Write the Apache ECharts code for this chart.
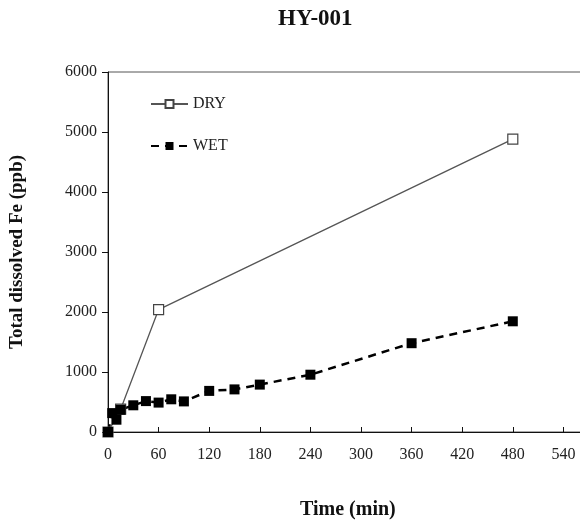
<!DOCTYPE html>
<html>
<head>
<meta charset="utf-8">
<script src="https://cdn.jsdelivr.net/npm/echarts@6/dist/echarts.min.js"></script>
<style>
  html, body { margin: 0; padding: 0; background: #fff; }
  #chart { width: 580px; height: 523px; }
</style>
</head>
<body>
<div id="chart"></div>
<script>
// 数据：时间(min) 与 总溶解铁(ppb)
const dryTime = [0, 15, 60, 480];
const dryFe = [0, 380, 2040, 4880];
const wetTime = [0, 5, 10, 15, 30, 45, 60, 75, 90, 120, 150, 180, 240, 360, 480];
const wetFe = [0, 315, 205, 370, 445, 515, 490, 545, 510, 685, 710, 790, 955, 1480, 1845];

const serif = "Liberation Serif";

const chart = echarts.init(document.getElementById("chart"));

const option = {
  animation: false,
  backgroundColor: "#fff",
  title: [
    {
      text: "HY-001",
      left: 273,
      top: 3,
      textStyle: { fontFamily: serif, fontWeight: "bold", fontSize: 23, color: "#111" }
    },
    {
      text: "Time (min)",
      left: 295,
      top: 495,
      textStyle: { fontFamily: serif, fontWeight: "bold", fontSize: 20, color: "#111" }
    }
  ],
  legend: {
    orient: "vertical",
    left: 145,
    top: 91,
    itemWidth: 37,
    itemHeight: 10,
    itemGap: 26,
    textStyle: { fontFamily: serif, fontSize: 16, color: "#222" },
    data: ["DRY", "WET"]
  },
  grid: {
    left: 108,
    top: 72,
    width: 506,
    height: 360,
    outerBoundsMode: "none",
    containLabel: false,
    show: true,
    borderColor: "#555",
    borderWidth: 1
  },
  xAxis: {
    type: "value",
    min: 0,
    max: 600,
    interval: 60,
    axisLine: { lineStyle: { color: "#111", width: 1 } },
    axisTick: { inside: true, length: 5, lineStyle: { color: "#111" } },
    axisLabel: { fontFamily: serif, fontSize: 16, color: "#222", margin: 15, formatter: (v) => String(v) },
    splitLine: { show: false }
  },
  yAxis: {
    type: "value",
    min: 0,
    max: 6000,
    interval: 1000,
    name: "Total dissolved Fe (ppb)",
    nameLocation: "middle",
    nameGap: 81,
    nameTextStyle: { fontFamily: serif, fontWeight: "bold", fontSize: 19, color: "#111" },
    axisLine: { show: true, lineStyle: { color: "#111", width: 1 } },
    axisTick: { show: true, length: 6, lineStyle: { color: "#111" } },
    axisLabel: { fontFamily: serif, fontSize: 16, color: "#222", margin: 11, formatter: (v) => String(v) },
    splitLine: { show: false }
  },
  series: [
    {
      name: "DRY",
      type: "line",
      data: dryTime.map((t, i) => [t, dryFe[i]]),
      symbol: "rect",
      symbolSize: 10,
      itemStyle: { color: "#fff", borderColor: "#444", borderWidth: 1.2 },
      lineStyle: { color: "#555", width: 1.3 }
    },
    {
      name: "WET",
      type: "line",
      data: wetTime.map((t, i) => [t, wetFe[i]]),
      symbol: "rect",
      symbolSize: 10,
      itemStyle: { color: "#000" },
      lineStyle: { color: "#000", width: 2.5, type: [8, 6] }
    }
  ]
};

chart.setOption(option);
</script>
</body>
</html>
